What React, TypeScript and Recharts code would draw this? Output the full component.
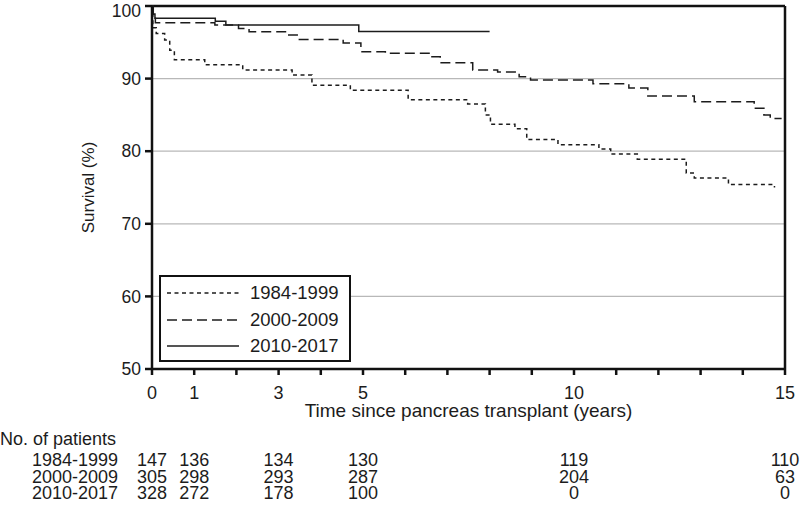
import { CartesianGrid, Label, Legend, Line, LineChart, ReferenceLine, XAxis, YAxis } from "recharts"

const FONT = "'Liberation Sans', Arial, Helvetica, sans-serif"
const INK = "#1c1c1c"

// Kaplan-Meier steps (time in years, survival in %)
const years1984 = [0, 0.02, 0.1, 0.3, 0.42, 0.53, 1.25, 2.15, 3.32, 3.79, 4.7, 6.07, 7.48, 7.9, 8.02, 8.6, 8.88, 9.62, 10.59, 10.87, 11.5, 12.66, 12.85, 13.66, 14.75]
const survival1984 = [100, 97.0, 96.2, 95.3, 93.9, 92.6, 91.9, 91.2, 90.5, 89.1, 88.4, 87.1, 86.5, 85.0, 83.7, 83.1, 81.6, 80.9, 80.3, 79.6, 78.9, 77.0, 76.3, 75.4, 75.0]

const years2000 = [0, 0.03, 0.08, 1.49, 2.05, 2.3, 3.2, 3.46, 4.53, 4.95, 5.53, 6.6, 6.83, 7.6, 8.19, 8.7, 8.97, 10.45, 11.3, 11.75, 12.85, 14.27, 14.5, 14.65, 14.92]
const survival2000 = [100, 98.5, 97.7, 97.4, 96.9, 96.45, 96.0, 95.4, 94.9, 93.7, 93.5, 93.0, 92.2, 91.2, 90.9, 90.25, 89.8, 89.3, 88.7, 87.6, 86.8, 85.9, 85.0, 84.5, 84.5]

const years2010 = [0, 0.03, 0.07, 1.5, 1.75, 4.9, 8.0]
const survival2010 = [100, 98.9, 98.3, 97.9, 97.4, 96.5, 96.5]

// numbers at risk
const riskYears = [0, 1, 3, 5, 10, 15]
const risk1984 = [147, 136, 134, 130, 119, 110]
const risk2000 = [305, 298, 293, 287, 204, 63]
const risk2010 = [328, 272, 178, 100, 0, 0]

const yearTicks = [0, 1, 2, 3, 4, 5, 6, 7, 8, 9, 10, 11, 12, 13, 14, 15]
const survivalTicks = [50, 60, 70, 80, 90, 100]

const toPoints = (years: number[], survival: number[]) => years.map((t, i) => ({ t, survival: survival[i] }))

const series = [
  { name: "1984-1999", data: toPoints(years1984, survival1984), dash: "4 3.5", risk: risk1984 },
  { name: "2000-2009", data: toPoints(years2000, survival2000), dash: "10 5", risk: risk2000 },
  { name: "2010-2017", data: toPoints(years2010, survival2010), dash: undefined, risk: risk2010 },
]

const ROW_GAP = 16.5

function TimeTick(props: any) {
  const { x, y, payload } = props
  const idx = riskYears.indexOf(payload.value)
  if (idx < 0) return <g />
  return (
    <g fontFamily={FONT} fontSize={18} fill={INK}>
      <text x={x} y={y} dy="0.71em" textAnchor="middle">
        {payload.value}
      </text>
      {series.map((s, j) => (
        <text key={s.name} x={x} y={y + 74 + ROW_GAP * j} dy="0.36em" textAnchor="middle">
          {s.risk[idx]}
        </text>
      ))}
    </g>
  )
}

function SeriesLegend() {
  return (
    <div
      style={{
        width: 192,
        height: 87,
        boxSizing: "border-box",
        border: "2px solid #111",
        background: "#fff",
        position: "relative",
        fontFamily: FONT,
        fontSize: 18.5,
        color: INK,
      }}
    >
      {series.map((s, i) => (
        <div key={s.name} style={{ position: "absolute", left: 6, top: 5 + i * 26.5, height: 22, display: "flex", alignItems: "center" }}>
          <svg width={72} height={4}>
            <line x1={0} x2={72} y1={2} y2={2} stroke={INK} strokeWidth={1.5} strokeDasharray={s.dash} />
          </svg>
          <span style={{ marginLeft: 11, lineHeight: "22px" }}>{s.name}</span>
        </div>
      ))}
    </div>
  )
}

export default function App() {
  return (
    <div style={{ position: "absolute", left: 0, top: 0, width: 800, height: 509, background: "#fff", fontFamily: FONT, color: INK }}>
      <LineChart width={800} height={509} margin={{ top: 6, right: 15, bottom: 0, left: 82 }}>
        <CartesianGrid vertical={false} stroke="#b8b8b8" strokeWidth={1.2} />
        <XAxis
          type="number"
          dataKey="t"
          domain={[0, 15]}
          ticks={yearTicks}
          interval={0}
          height={140}
          tickSize={6}
          tickMargin={11}
          stroke="#111"
          strokeWidth={2.5}
          tick={<TimeTick />}
          allowDuplicatedCategory={false}
        >
          <Label value="Time since pancreas transplant (years)" position="insideTop" offset={35} fontSize={19} fill={INK} fontFamily={FONT} />
        </XAxis>
        <YAxis
          type="number"
          domain={[50, 100]}
          ticks={survivalTicks}
          width={70}
          tickSize={7}
          tickMargin={4}
          stroke="#111"
          strokeWidth={2.5}
          tick={{ fill: INK, fontSize: 17.5, fontFamily: FONT }}
        >
          <Label
            content={(props: any) => {
              const vb = props.viewBox
              const cx = vb.x + 6
              const cy = vb.y + vb.height / 2
              return (
                <text x={cx} y={cy} transform={`rotate(-90 ${cx} ${cy})`} textAnchor="middle" dy="0.36em" fontSize={17} fill={INK} fontFamily={FONT}>
                  Survival (%)
                </text>
              )
            }}
          />
        </YAxis>
        <ReferenceLine y={100} stroke="#111" strokeWidth={2.5} />
        <ReferenceLine x={15} stroke="#111" strokeWidth={2.5} />
        {series.map((s) => (
          <Line
            key={s.name}
            data={s.data}
            dataKey="survival"
            name={s.name}
            type="stepAfter"
            stroke={INK}
            strokeWidth={1.5}
            strokeDasharray={s.dash}
            dot={false}
            activeDot={false}
            isAnimationActive={false}
          />
        ))}
        <Legend
          layout="horizontal"
          verticalAlign="middle"
          align="center"
          content={<SeriesLegend />}
          wrapperStyle={{ left: 159, top: 275, width: 192, height: 87, bottom: "auto", right: "auto" }}
        />
      </LineChart>
      <div style={{ position: "absolute", left: 0, top: 429, fontSize: 18, lineHeight: "20px", whiteSpace: "nowrap" }}>No. of patients</div>
      {series.map((s, i) => (
        <div key={s.name} style={{ position: "absolute", left: 32, top: 452 + i * ROW_GAP, fontSize: 18, lineHeight: "16px", whiteSpace: "nowrap" }}>
          {s.name}
        </div>
      ))}
    </div>
  )
}
